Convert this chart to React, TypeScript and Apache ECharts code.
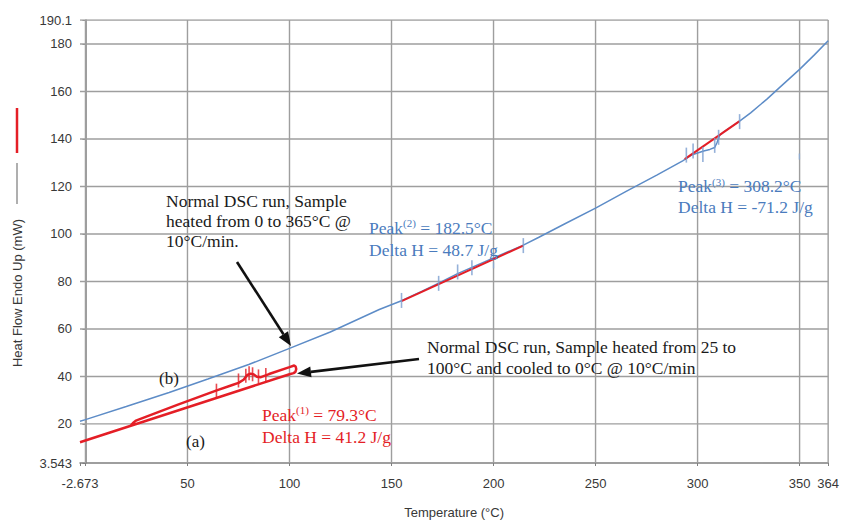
import React, { useEffect, useRef } from 'react';
import * as echarts from 'echarts';

// ---- axis ticks / labels ----
const xMin = -2.673;
const xMax = 364;
const yMin = 3.543;
const yMax = 190.1;
const xTickValues = [-2.673, 0, 50, 100, 150, 200, 250, 300, 350, 364];
const xLabelValues = [-2.673, 50, 100, 150, 200, 250, 300, 350, 364];
const xGridValues = [0, 50, 100, 150, 200, 250, 300, 350, 364];
const yTickValues = [3.543, 20, 40, 60, 80, 100, 120, 140, 160, 180, 190.1];
const yGridValues = [20, 40, 60, 80, 100, 120, 140, 160, 180, 190.1];

// ---- (b) normal DSC run, 0 -> 365 °C ----
const runB: [number, number][] = [
  [-2.673, 21.1], [0, 21.8], [20, 27.3], [41, 33.2], [60, 38.9], [80, 45.0], [100, 51.8],
  [120, 58.7], [144, 68.2], [154.9, 71.9], [165, 75.9], [173.1, 79.3], [182.4, 83.3],
  [189.4, 85.9], [200, 89.9], [214.6, 95.3], [222, 98.5], [235, 104.3], [250, 110.9],
  [265, 117.9], [280, 124.8], [292.7, 130.8], [294, 131.5], [297, 133.2], [300, 134.1],
  [303, 134.9], [306, 135.6], [308.4, 136.4], [309.6, 138.6], [310.8, 141.5], [313, 143.1],
  [320.6, 147.5], [326, 151.0], [331, 154.6], [334, 156.8], [340, 161.5], [350, 169.3],
  [357, 175.2], [364, 181.4],
];

// ---- (a) heated 25 -> 100 °C, cooled to 0 °C ----
const runA: [number, number][] = [
  [22.0, 19.1], [23.3, 20.4], [24.8, 21.4], [26, 21.8], [45, 28.0], [64, 34.0], [72, 36.4],
  [75, 37.3], [77.5, 38.6], [79.3, 40.6], [81, 41.2], [82.5, 40.8], [84, 39.9], [86, 39.7],
  [90, 41.0], [100, 43.9], [102.3, 44.6], [103.0, 44.2], [103.3, 43.1], [102.9, 41.9],
  [102.0, 41.4], [100, 40.9], [-2.673, 12.3],
];

// ---- peak integration baselines ----
const peak2Baseline: [number, number][] = [[154.9, 71.7], [214.6, 95.1]];
const peak3Baseline: [number, number][] = [[293.7, 131.5], [320.6, 147.5]];

// ---- analysis markers ----
const markersA: [number, number][] = [
  [64.2, 34.0], [75.0, 38.3], [78.6, 40.3], [80.2, 41.3], [81.9, 40.9], [84.8, 40.0], [88.4, 40.6],
];
const markersB: [number, number][] = [
  [154.9, 72.0], [173.1, 79.2], [182.4, 84.0], [189.4, 85.8], [214.6, 95.1],
  [294.5, 133.2], [297.8, 134.9], [302.6, 133.5], [308.4, 137.3], [310.3, 140.7], [320.6, 147.3],
];
const markersBMinor: [number, number][] = [[200, 86.8], [349.9, 132.6]];

const RED = '#e41e26';
const BLUE_LINE = '#5d8cc7';
const BLUE_TEXT = '#4a7bbd';
const GRID = '#9e9e9e';
const SERIF = '"Liberation Serif", "Times New Roman", serif';
const SANS = '"Liberation Sans", Arial, sans-serif';

function arrow(x1: number, y1: number, x2: number, y2: number, len = 14, half = 5.5) {
  const dx = x2 - x1, dy = y2 - y1;
  const L = Math.hypot(dx, dy);
  const ux = dx / L, uy = dy / L;
  const bx = x2 - ux * len, by = y2 - uy * len;
  return [
    { type: 'line', shape: { x1, y1, x2: bx, y2: by }, style: { stroke: '#111', lineWidth: 2.6 }, z: 100 },
    {
      type: 'polygon',
      shape: { points: [[x2, y2], [bx - uy * half, by + ux * half], [bx + uy * half, by - ux * half]] },
      style: { fill: '#111' },
      z: 100,
    },
  ];
}

function peakText(x: number, y: number, sup: string, peak: string, dh: string, color: string, lh: number) {
  return {
    type: 'text',
    x,
    y,
    z: 100,
    style: {
      text: `{n|Peak}{s|(${sup})}{n| = ${peak}°C}\n{n|Delta H = ${dh} J/g}`,
      fill: color,
      rich: {
        n: { fontSize: 17.5, fontFamily: SERIF, fill: color, lineHeight: lh },
        s: { fontSize: 11, fontFamily: SERIF, fill: color, verticalAlign: 'top', lineHeight: 15 },
      },
    },
  };
}

function gridSeries(points: [number, number][]) {
  return {
    type: 'line',
    data: points,
    silent: true,
    showSymbol: false,
    symbol: 'none',
    lineStyle: { color: GRID, width: 1.4 },
    z: 1,
  };
}

export default function App() {
  const ref = useRef<HTMLDivElement>(null);
  useEffect(() => {
    const chart = echarts.init(ref.current!, null, { renderer: 'svg' });
    const fmt = (v: number) => String(+Number(v).toFixed(3));
    const gridLines = [
      ...xGridValues.map((v) => gridSeries([[v, yMin], [v, yMax]])),
      ...yGridValues.map((v) => gridSeries([[xMin, v], [xMax, v]])),
    ];
    const option: any = {
      animation: false,
      backgroundColor: '#ffffff',
      grid: { left: 80, right: 11, top: 20, bottom: 52 },
      xAxis: {
        type: 'value',
        min: xMin,
        max: xMax,
        name: 'Temperature (°C)',
        nameLocation: 'middle',
        nameGap: 43,
        nameTextStyle: { fontFamily: SANS, fontSize: 13, color: '#383838' },
        axisLine: { show: true, lineStyle: { color: '#7f7f7f', width: 1.5 } },
        axisTick: { show: true, length: 3, customValues: xTickValues, lineStyle: { color: '#7f7f7f' } },
        axisLabel: {
          customValues: xLabelValues,
          formatter: fmt,
          margin: 14,
          fontFamily: SANS,
          fontSize: 13,
          color: '#383838',
        },
        splitLine: { show: false },
      },
      yAxis: {
        type: 'value',
        min: yMin,
        max: yMax,
        axisLine: { show: true, lineStyle: { color: '#7f7f7f', width: 1.5 } },
        axisTick: { show: true, length: 3, customValues: yTickValues, lineStyle: { color: '#7f7f7f' } },
        axisLabel: {
          customValues: yTickValues,
          formatter: fmt,
          margin: 8,
          fontFamily: SANS,
          fontSize: 13,
          color: '#383838',
        },
        splitLine: { show: false },
      },
      series: [
        ...gridLines,
        {
          name: 'b', type: 'line', data: runB, showSymbol: false, symbol: 'none',
          lineStyle: { color: BLUE_LINE, width: 1.5 }, z: 2,
        },
        {
          name: 'a', type: 'line', data: runA, showSymbol: false, symbol: 'none',
          lineStyle: { color: RED, width: 2.5 }, z: 3,
        },
        {
          name: 'peak2', type: 'line', data: peak2Baseline, showSymbol: false, symbol: 'none',
          lineStyle: { color: RED, width: 2 }, z: 3,
        },
        {
          name: 'peak3', type: 'line', data: peak3Baseline, showSymbol: false, symbol: 'none',
          lineStyle: { color: RED, width: 2 }, z: 3,
        },
        {
          name: 'markersA', type: 'scatter', data: markersA, symbol: 'rect', symbolSize: [1.6, 14],
          itemStyle: { color: RED }, z: 4,
        },
        {
          name: 'markersB', type: 'scatter', data: markersB, symbol: 'rect', symbolSize: [1.6, 15],
          itemStyle: { color: '#7a9ed0' }, z: 4,
        },
        {
          name: 'markersBMinor', type: 'scatter', data: markersBMinor, symbol: 'rect', symbolSize: [1.4, 6],
          itemStyle: { color: '#8aaad6' }, z: 4,
        },
      ],
      graphic: [
        // y-axis title with legend keys
        { type: 'line', shape: { x1: 17, y1: 108, x2: 17, y2: 153 }, style: { stroke: RED, lineWidth: 2.5 } },
        { type: 'line', shape: { x1: 17, y1: 163, x2: 17, y2: 204 }, style: { stroke: '#7a7a7a', lineWidth: 1.2 } },
        {
          type: 'text', x: 17, y: 293, rotation: Math.PI / 2,
          style: {
            text: 'Heat Flow Endo Up (mW)', fill: '#383838', fontFamily: SANS, fontSize: 13,
            align: 'center', verticalAlign: 'middle',
          },
        },
        // annotations
        {
          type: 'text', x: 166, y: 191, z: 100,
          style: {
            text: 'Normal DSC run, Sample\nheated from 0 to 365°C @\n10°C/min.',
            fill: '#1a1a1a', fontFamily: SERIF, fontSize: 17.5, lineHeight: 20,
          },
        },
        {
          type: 'text', x: 427, y: 336, z: 100,
          style: {
            text: 'Normal DSC run, Sample heated from 25 to\n100°C and cooled to 0°C @ 10°C/min',
            fill: '#1a1a1a', fontFamily: SERIF, fontSize: 17.5, lineHeight: 21.6,
          },
        },
        { type: 'text', x: 159, y: 370, z: 100, style: { text: '(b)', fill: '#1a1a1a', fontFamily: SERIF, fontSize: 17 } },
        { type: 'text', x: 186, y: 433, z: 100, style: { text: '(a)', fill: '#1a1a1a', fontFamily: SERIF, fontSize: 17 } },
        peakText(262, 404, '1', '79.3', '41.2', RED, 22),
        peakText(369, 217, '2', '182.5', '48.7', BLUE_TEXT, 22),
        peakText(678, 176, '3', '308.2', '-71.2', BLUE_TEXT, 20.5),
        ...arrow(237, 262, 291, 346),
        ...arrow(419, 359, 297, 373.5),
      ],
    };
    chart.setOption(option);
    return () => chart.dispose();
  }, []);
  return (
    <div
      ref={ref}
      style={{ position: 'absolute', left: 0, top: 0, width: 842, height: 524, background: '#fff' }}
    />
  );
}
